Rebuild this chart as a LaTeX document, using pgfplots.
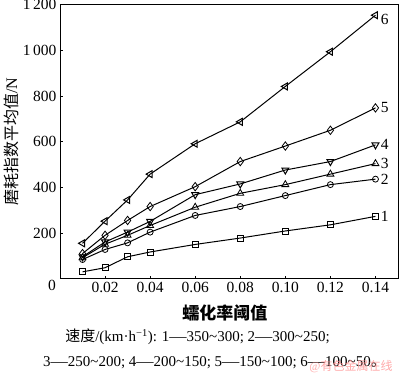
\documentclass[border=0pt]{standalone}
\usepackage{fontspec}
\setmainfont{Liberation Serif}
\newfontfamily\cjk{Noto Sans CJK SC}
\usepackage{pgfplots}
\pgfplotsset{compat=1.18}
\newcommand{\dash}{\scalebox{1.15}[1]{—}}
\begin{document}
\begin{tikzpicture}
\useasboundingbox (-60pt,-96.3pt) rectangle (340pt,278.7pt);
\begin{axis}[
 scale only axis, width=338pt, height=274pt,
 at={(0pt,0pt)}, anchor=south west,
 xmin=0, xmax=0.15, ymin=0, ymax=1200,
 xtick={0.02,0.04,0.06,0.08,0.10,0.12,0.14},
 xticklabels={0.02,0.04,0.06,0.08,0.10,0.12,0.14},
 ytick={200,400,600,800,1000,1200},
 yticklabels={200,400,600,800,1\,000,1\,200},
 tick pos=left,
 tick align=inside, major tick length=3pt,
 tick style={black, line width=0.7pt},
 axis line style={line width=0.9pt},
 ticklabel style={font=\fontsize{15.5}{18}\selectfont},
 /pgf/number format/assume math mode=true,
 every axis plot/.append style={black, line width=1pt, mark options={solid, fill=white, line width=0.8pt}},
 clip=false,
 xlabel={\cjk\bfseries 蠕化率阈值},
 xlabel style={at={(axis description cs:0.488,0)}, anchor=center, yshift=-34.3pt, font=\fontsize{17}{20}\selectfont},
]
\addplot[mark=square, mark size=3pt] coordinates {(0.01,30)(0.02,48)(0.03,96)(0.04,117)(0.06,150)(0.08,178)(0.10,209)(0.12,236)(0.14,273)};
\addplot[mark=o, mark size=3pt] coordinates {(0.01,84)(0.02,128)(0.03,157)(0.04,204)(0.06,277)(0.08,316)(0.10,364)(0.12,412)(0.14,436)};
\addplot[mark=triangle, mark size=4pt] coordinates {(0.01,92)(0.02,151)(0.03,190)(0.04,233)(0.06,313)(0.08,374)(0.10,412)(0.12,458)(0.14,504)};
\addplot[mark=triangle, mark size=4pt, mark options={rotate=180}] coordinates {(0.01,96)(0.02,161)(0.03,204)(0.04,251)(0.06,368)(0.08,415)(0.10,476)(0.12,513)(0.14,586)};
\addplot[mark=diamond, mark size=4.2pt] coordinates {(0.01,110)(0.02,190)(0.03,255)(0.04,316)(0.06,403)(0.08,513)(0.10,581)(0.12,650)(0.14,748)};
\addplot[mark=triangle, mark size=4pt, mark options={rotate=90}] coordinates {(0.01,155)(0.02,252)(0.03,345)(0.04,458)(0.06,591)(0.08,687)(0.10,842)(0.12,994)(0.14,1154)};
\begin{scope}[every node/.style={anchor=west, font=\fontsize{15.5}{18}\selectfont, xshift=2pt}]
\node at (axis cs:0.14,273) {1};
\node at (axis cs:0.14,436) {2};
\node at (axis cs:0.14,504) {3};
\node at (axis cs:0.14,586) {4};
\node at (axis cs:0.14,748) {5};
\node at (axis cs:0.14,1135) {6};
\end{scope}
\end{axis}
\node[rotate=90] at (-49pt,136.7pt) {\fontsize{16}{19}\selectfont {\cjk 磨耗指数平均值}/N};
\node at (-8pt,-6.3pt) {\fontsize{15.5}{18}\selectfont 0};
\node at (137.5pt,-58pt) {\fontsize{15}{17}\selectfont {\cjk 速度}/(km·h\textsuperscript{−1}): 1\dash 350\textasciitilde 300; 2\dash 300\textasciitilde 250;};
\node at (154.5pt,-84pt) {\fontsize{15}{17}\selectfont 3\dash 250\textasciitilde 200; 4\dash 200\textasciitilde 150; 5\dash 150\textasciitilde 100; 6\dash 100\textasciitilde 50{\cjk 。}};
\node[text=red!45!white, opacity=0.75] at (291pt,-88pt) {\fontsize{12}{14}\selectfont @{\cjk 有色金属在线}};
\end{tikzpicture}
\end{document}
